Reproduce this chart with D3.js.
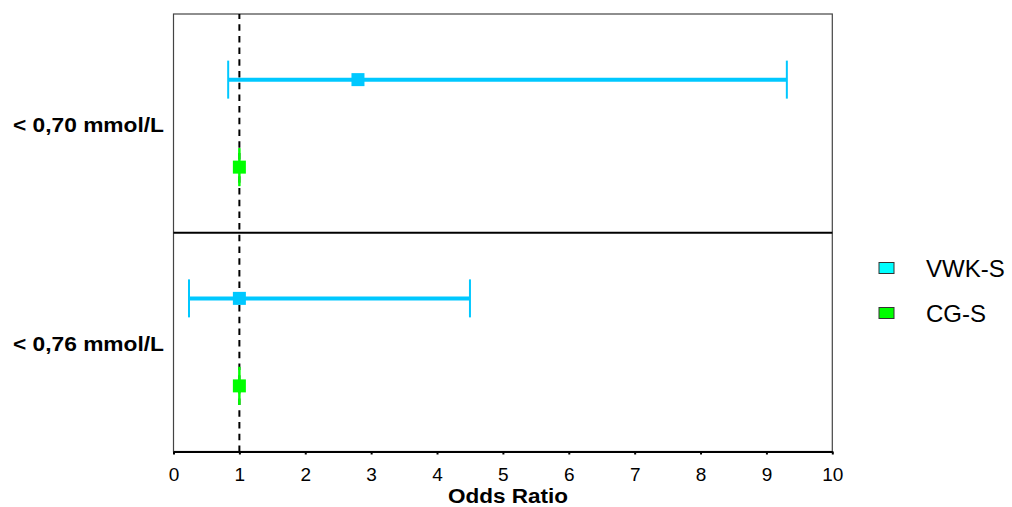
<!DOCTYPE html>
<html>
<head>
<meta charset="utf-8">
<script src="https://cdn.jsdelivr.net/npm/d3@7"></script>
<style>
  body { margin: 0; background: #fff; }
  svg { display: block; font-family: Arial, "Liberation Sans", sans-serif; }
</style>
</head>
<body>
<div id="chart-area"></div>
<script>
// Data
const groups = ["< 0,70 mmol/L", "< 0,76 mmol/L"];
const series = ["VWK-S", "CG-S"];
const oddsRatio = { "VWK-S": [2.8, 1.0], "CG-S": [1.0, 1.0] };
const ciLow = { "VWK-S": [0.83, 0.235], "CG-S": [1.0, 1.0] };
const ciHigh = { "VWK-S": [9.31, 4.5], "CG-S": [1.0, 1.0] };
const xTicks = [0, 1, 2, 3, 4, 5, 6, 7, 8, 9, 10];

const lineColor = { "VWK-S": "#00c8ff", "CG-S": "#00ff00" };
const legendColor = { "VWK-S": "#00ffff", "CG-S": "#00ff00" };

const W = 1012, H = 507;
const plot = { left: 173.5, right: 832.3, top: 14, bottom: 451.5 };

const rows = [];
groups.forEach((g, i) => {
  series.forEach(s => {
    rows.push({ group: g, series: s, or: oddsRatio[s][i], lo: ciLow[s][i], hi: ciHigh[s][i] });
  });
});

const svg = d3.select("#chart-area")
  .append("svg")
    .attr("width", W)
    .attr("height", H);

// Scales
const xScale = d3.scaleLinear()
  .domain([0, 10])
  .range([plot.left, plot.right]);

const groupScale = d3.scaleBand()
  .domain(groups)
  .range([plot.top, plot.bottom]);

const seriesScale = d3.scalePoint()
  .domain(series)
  .range([0, groupScale.bandwidth()])
  .padding(0.75);

const yOf = d => groupScale(d.group) + seriesScale(d.series);

// Frame
svg.append("rect")
  .attr("x", plot.left)
  .attr("y", plot.top)
  .attr("width", plot.right - plot.left)
  .attr("height", plot.bottom - plot.top)
  .attr("fill", "none")
  .attr("stroke", "#444")
  .attr("stroke-width", 1.2);

// Divider between groups
svg.append("line")
  .attr("x1", plot.left)
  .attr("x2", plot.right)
  .attr("y1", groupScale(groups[1]))
  .attr("y2", groupScale(groups[1]))
  .attr("stroke", "#000")
  .attr("stroke-width", 2);

// Reference line at OR = 1
svg.append("line")
  .attr("x1", xScale(1))
  .attr("x2", xScale(1))
  .attr("y1", plot.top)
  .attr("y2", plot.bottom)
  .attr("stroke", "#000")
  .attr("stroke-width", 2)
  .attr("stroke-dasharray", "6.5,5.2")
  .attr("stroke-dashoffset", 1.5);

// X axis
const xAxis = d3.axisBottom(xScale)
  .tickValues(xTicks)
  .tickFormat(d3.format("d"))
  .tickSizeInner(3)
  .tickSizeOuter(0)
  .tickPadding(13);

const xAxisGroup = svg.append("g")
  .attr("transform", `translate(0,${plot.bottom})`)
  .call(xAxis);

xAxisGroup.select(".domain")
  .attr("stroke", "#000")
  .attr("stroke-width", 2);
xAxisGroup.selectAll(".tick line")
  .attr("stroke", "#000")
  .attr("stroke-width", 2);
xAxisGroup.selectAll(".tick text")
  .attr("font-size", 19)
  .attr("font-family", "Arial, 'Liberation Sans', sans-serif")
  .attr("fill", "#000");

svg.append("text")
  .attr("x", (xScale(0) + xScale(10)) / 2 + 5)
  .attr("y", 503)
  .attr("text-anchor", "middle")
  .attr("font-size", 20)
  .attr("font-weight", "bold")
  .attr("textLength", 120)
  .attr("lengthAdjust", "spacingAndGlyphs")
  .text("Odds Ratio");

// Group labels
svg.selectAll(".group-label")
  .data(groups)
  .enter().append("text")
  .attr("class", "group-label")
  .attr("x", 164)
  .attr("y", d => groupScale(d) + groupScale.bandwidth() / 2 + 9)
  .attr("text-anchor", "end")
  .attr("font-size", 21)
  .attr("font-weight", "bold")
  .attr("textLength", 151)
  .attr("lengthAdjust", "spacingAndGlyphs")
  .text(d => d);

// Error bars
const bars = svg.selectAll(".bar")
  .data(rows)
  .enter().append("g")
  .attr("class", "bar");

bars.append("line")
  .attr("x1", d => xScale(d.lo))
  .attr("x2", d => xScale(d.hi))
  .attr("y1", yOf)
  .attr("y2", yOf)
  .attr("stroke", d => lineColor[d.series])
  .attr("stroke-width", 4);

["lo", "hi"].forEach(k => {
  bars.append("line")
    .attr("x1", d => xScale(d[k]))
    .attr("x2", d => xScale(d[k]))
    .attr("y1", d => yOf(d) - 19)
    .attr("y2", d => yOf(d) + 19)
    .attr("stroke", d => lineColor[d.series])
    .attr("stroke-width", 2);
});

bars.append("rect")
  .attr("x", d => xScale(d.or) - 6.5)
  .attr("y", d => yOf(d) - 6.5)
  .attr("width", 13)
  .attr("height", 13)
  .attr("fill", d => lineColor[d.series]);

// Legend
const legend = svg.selectAll(".legend")
  .data(series)
  .enter().append("g")
  .attr("class", "legend")
  .attr("transform", (d, i) => `translate(879,${268 + i * 45})`);

legend.append("rect")
  .attr("x", 0)
  .attr("y", -5.5)
  .attr("width", 15)
  .attr("height", 11)
  .attr("fill", d => legendColor[d])
  .attr("stroke", "#333")
  .attr("stroke-width", 1);

legend.append("text")
  .attr("x", 47)
  .attr("y", 8.5)
  .attr("font-size", 24)
  .text(d => d);
</script>
</body>
</html>
